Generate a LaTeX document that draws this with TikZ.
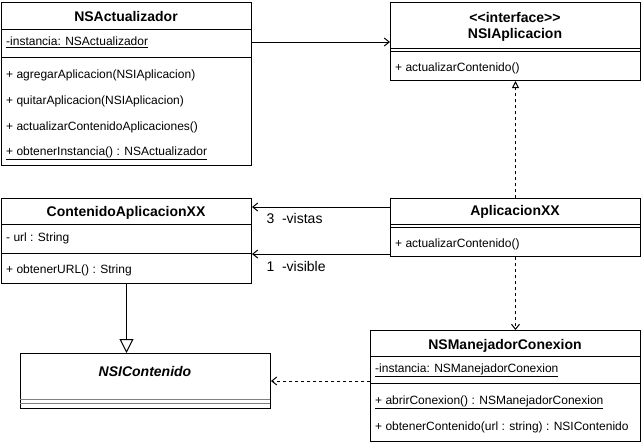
\documentclass[tikz,border=0pt]{standalone}
\usepackage{fontspec}
\setmainfont{Liberation Sans}
\usetikzlibrary{arrows.meta}

\tikzset{
  classbox/.style={draw, line width=1pt, anchor=north west, inner sep=0pt},
  classname/.style={inner sep=0pt, font=\fontsize{14}{16}\selectfont\bfseries},
  member/.style={anchor=west, inner sep=0pt, font=\fontsize{12}{14}\selectfont},
  rolelabel/.style={anchor=west, inner sep=0pt, font=\fontsize{14}{16}\selectfont},
  assoc/.style={line width=1pt, -{Straight Barb[length=5pt,width=8pt]}},
  depend/.style={line width=1pt, dash pattern=on 3pt off 3pt, -{Straight Barb[length=5pt,width=8pt]}},
  realize/.style={line width=1pt, dash pattern=on 3pt off 3pt, -{Triangle[open,length=7pt,width=7pt,fill=white]}},
  general/.style={line width=1pt, -{Triangle[open,length=14pt,width=14pt,fill=white]}}
}

\begin{document}
\begin{tikzpicture}[x=1pt,y=-1pt]
\useasboundingbox (0,0) rectangle (641,445);

% NSActualizador
\node[classbox, minimum width=250pt, minimum height=163pt] (act) at (1,2) {};
\node[classname] (acttitle) at (126,16) {NSActualizador};
\draw[line width=1pt] (1,29) -- (251,29);
\node[member] (actattr) at (6,42) {\underline{-instancia: NSActualizador}};
\draw[line width=1pt] (1,57) -- (251,57);
\node[member] (actm1) at (6,75) {+ agregarAplicacion(NSIAplicacion)};
\node[member] (actm2) at (6,101) {+ quitarAplicacion(NSIAplicacion)};
\node[member] (actm3) at (6,127) {+ actualizarContenidoAplicaciones()};
\node[member] (actm4) at (6,153) {\underline{+ obtenerInstancia() : NSActualizador}};

% NSIAplicacion
\node[classbox, minimum width=250pt, minimum height=78pt] (apl) at (390,2) {};
\node[classname] (apltag) at (515,17) {{<}{<}interface{>}{>}};
\node[classname] (apltitle) at (515,35) {NSIAplicacion};
\draw[line width=1pt] (390,48) -- (640,48);
\draw[line width=1pt] (390,51) -- (640,51);
\node[member] (aplm1) at (395,68) {+ actualizarContenido()};

% ContenidoAplicacionXX
\node[classbox, minimum width=250pt, minimum height=85pt] (cont) at (1,198) {};
\node[classname] (conttitle) at (126,213) {ContenidoAplicacionXX};
\draw[line width=1pt] (1,224) -- (251,224);
\node[member] (contattr) at (6,238) {- url : String};
\draw[line width=1pt] (1,253) -- (251,253);
\node[member] (contm1) at (6,270) {+ obtenerURL() : String};

% AplicacionXX
\node[classbox, minimum width=250pt, minimum height=58pt] (aplxx) at (390,198) {};
\node[classname] (aplxxtitle) at (515,212) {AplicacionXX};
\draw[line width=1pt] (390,224) -- (640,224);
\draw[line width=1pt] (390,227) -- (640,227);
\node[member] (aplxxm1) at (395,244) {+ actualizarContenido()};

% NSIContenido
\node[classbox, minimum width=250pt, minimum height=55pt] (ncont) at (20,353) {};
\node[classname] (ncontitle) at (145,371) {\itshape NSIContenido};
\draw[line width=1pt, gray] (20,399) -- (270,399);
\draw[line width=1pt, gray] (20,403) -- (270,403);

% NSManejadorConexion
\node[classbox, minimum width=270pt, minimum height=111pt] (mcon) at (370,330) {};
\node[classname] (mcontitle) at (505,346) {NSManejadorConexion};
\draw[line width=1pt] (370,356) -- (640,356);
\node[member] (mconattr) at (375,370) {\underline{-instancia: NSManejadorConexion}};
\draw[line width=1pt] (370,383) -- (640,383);
\node[member] (mconm1) at (375,402) {\underline{+ abrirConexion() : NSManejadorConexion}};
\node[member] (mconm2) at (375,427) {+ obtenerContenido(url : string) : NSIContenido};

% relaciones
\coordinate (vistas) at ([yshift=-9pt]aplxx.north west);
\coordinate (visible) at ([yshift=3pt]aplxx.south west);
\draw[assoc] (act.east |- actattr) -- (apl.west |- actattr);
\draw[realize] (aplxx.north) -- (apl.south);
\draw[assoc] (vistas) -- (cont.east |- vistas) node[rolelabel, xshift=14pt, yshift=-11pt] {3\ \ -vistas};
\draw[assoc] (visible) -- (cont.east |- visible) node[rolelabel, xshift=14pt, yshift=-12pt] {1\ \ -visible};
\draw[general] (cont.south) -- (cont.south |- ncont.north);
\draw[depend] (aplxx.south) -- (aplxx.south |- mcon.north);
\draw[depend] (ncont.east -| mcon.west) -- (ncont.east);

\end{tikzpicture}
\end{document}
